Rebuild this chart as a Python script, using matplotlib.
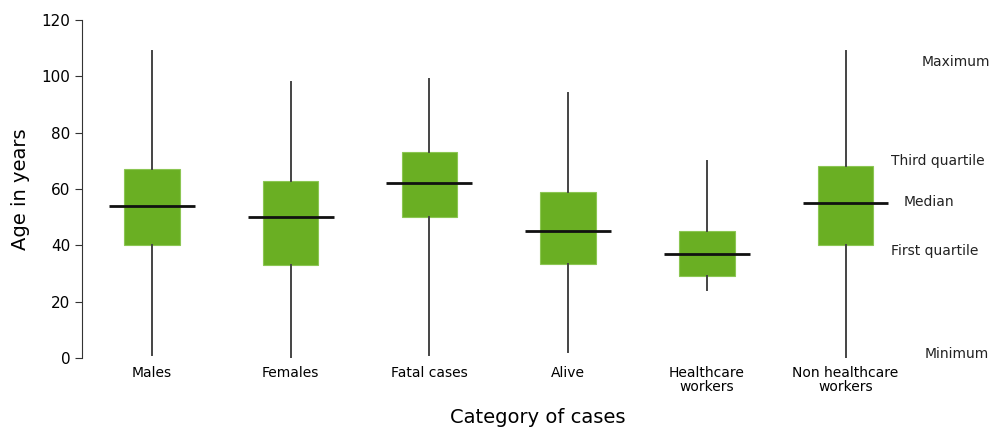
import matplotlib

matplotlib.use("Agg")
import matplotlib.pyplot as plt  # noqa: E402

categories = ["Males", "Females", "Fatal cases", "Alive", "Healthcare\nworkers",
              "Non healthcare\nworkers"]
minimum = [1, 0, 1, 2, 24, 0]
q1 = [40, 33, 50, 33.5, 29, 40]
median = [54, 50, 62, 45, 37, 55]
q3 = [67, 63, 73, 59, 45, 68]
maximum = [109, 98, 99, 94, 70, 109]

legend_labels = ["Maximum", "Third quartile", "Median", "First quartile", "Minimum"]
legend_y = [105, 70, 55.5, 38, 1.3]
legend_x = [6.55, 6.33, 6.42, 6.33, 6.57]

GREEN = "#6aaf23"

fig = plt.figure(figsize=(9.94, 4.30), dpi=100)
ax = fig.add_axes([82 / 994, 72 / 430, 1 - 82 / 994, 338 / 430])

pos = list(range(1, len(categories) + 1))
stats = [dict(whislo=lo, q1=a, med=m, q3=b, whishi=hi)
         for lo, a, m, b, hi in zip(minimum, q1, median, q3, maximum)]
ax.bxp(stats, positions=pos, widths=0.40, showfliers=False, showcaps=False,
       patch_artist=True,
       boxprops=dict(facecolor=GREEN, edgecolor="#8cc653", linewidth=0.8),
       whiskerprops=dict(color="#444444", linewidth=1.4),
       medianprops=dict(linewidth=0))
ax.hlines(median, [p - 0.31 for p in pos], [p + 0.31 for p in pos],
          colors="#111111", linewidth=2.0, zorder=5)

for lab, y, x in zip(legend_labels, legend_y, legend_x):
    ax.text(x, y, lab, fontsize=10, va="center", ha="left", color="#222222")

ax.set_xlim(1 - 70 / 138.7, 1 + 842 / 138.7)
ax.set_ylim(0, 120)
ax.set_yticks(range(0, 121, 20))
ax.set_xticks(pos)
ax.set_xticklabels(categories, fontsize=10, linespacing=0.95)
ax.tick_params(axis="x", length=0, pad=6)
ax.tick_params(axis="y", labelsize=11, length=5, color="#333333")
for side in ("top", "right", "bottom"):
    ax.spines[side].set_visible(False)
ax.spines["left"].set_color("#333333")
ax.set_ylabel("Age in years", fontsize=14, labelpad=8)
ax.set_xlabel("Category of cases", fontsize=14, labelpad=10)

fig.savefig("out.png", dpi=100)
plt.close(fig)
